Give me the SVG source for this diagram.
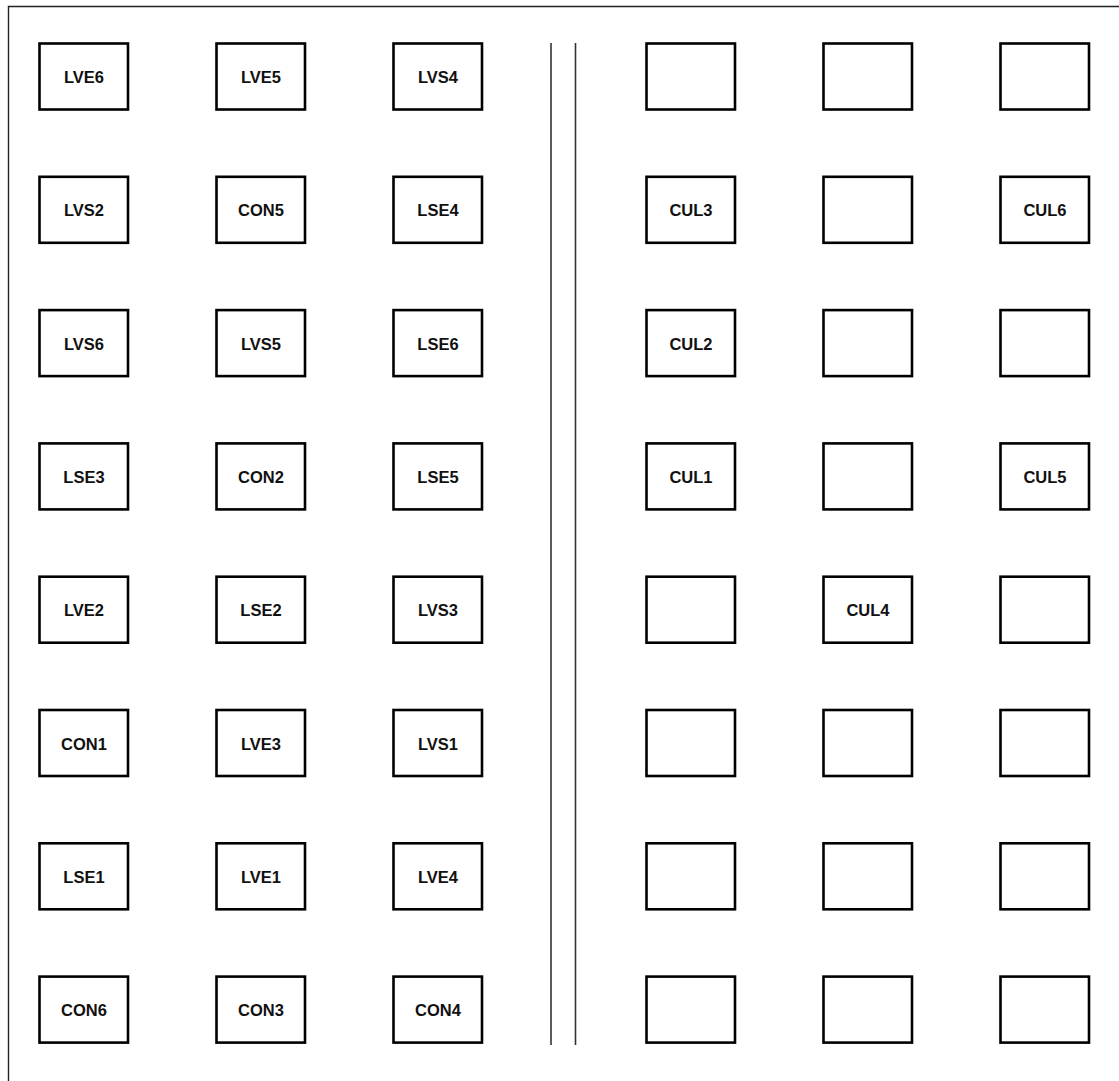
<svg xmlns="http://www.w3.org/2000/svg" width="1119" height="1081" viewBox="0 0 1119 1081">
<style>
.box{fill:#fff;stroke:#000;stroke-width:2.6}
.lbl{font-family:"Liberation Sans",Arial,sans-serif;font-weight:bold;font-size:16.5px;fill:#111;text-anchor:middle;dominant-baseline:central}
.frame{stroke:#222;stroke-width:1.4;fill:none}
.div{stroke:#333;stroke-width:1.6}
</style>
<rect width="1119" height="1081" fill="#fff"/>
<path class="frame" d="M8.5 1081 V6.5 H1119"/>
<g id="connectors">
<line class="div" x1="551" y1="43" x2="551" y2="1045"/>
<line class="div" x1="575.5" y1="43" x2="575.5" y2="1045"/>
</g>
<defs>
<rect id="b" class="box" width="88.5" height="66"/>
</defs>
<g id="n-LVE6"><use href="#b" x="39.5" y="43.5"/><text class="lbl" x="84" y="77">LVE6</text></g>
<g id="n-LVE5"><use href="#b" x="216.5" y="43.5"/><text class="lbl" x="261" y="77">LVE5</text></g>
<g id="n-LVS4"><use href="#b" x="393.5" y="43.5"/><text class="lbl" x="438" y="77">LVS4</text></g>
<g id="n-r1c4"><use href="#b" x="646.5" y="43.5"/></g>
<g id="n-r1c5"><use href="#b" x="823.5" y="43.5"/></g>
<g id="n-r1c6"><use href="#b" x="1000.5" y="43.5"/></g>

<g id="n-LVS2"><use href="#b" x="39.5" y="176.8"/><text class="lbl" x="84" y="210.3">LVS2</text></g>
<g id="n-CON5"><use href="#b" x="216.5" y="176.8"/><text class="lbl" x="261" y="210.3">CON5</text></g>
<g id="n-LSE4"><use href="#b" x="393.5" y="176.8"/><text class="lbl" x="438" y="210.3">LSE4</text></g>
<g id="n-CUL3"><use href="#b" x="646.5" y="176.8"/><text class="lbl" x="691" y="210.3">CUL3</text></g>
<g id="n-r2c5"><use href="#b" x="823.5" y="176.8"/></g>
<g id="n-CUL6"><use href="#b" x="1000.5" y="176.8"/><text class="lbl" x="1045" y="210.3">CUL6</text></g>

<g id="n-LVS6"><use href="#b" x="39.5" y="310.1"/><text class="lbl" x="84" y="343.6">LVS6</text></g>
<g id="n-LVS5"><use href="#b" x="216.5" y="310.1"/><text class="lbl" x="261" y="343.6">LVS5</text></g>
<g id="n-LSE6"><use href="#b" x="393.5" y="310.1"/><text class="lbl" x="438" y="343.6">LSE6</text></g>
<g id="n-CUL2"><use href="#b" x="646.5" y="310.1"/><text class="lbl" x="691" y="343.6">CUL2</text></g>
<g id="n-r3c5"><use href="#b" x="823.5" y="310.1"/></g>
<g id="n-r3c6"><use href="#b" x="1000.5" y="310.1"/></g>

<g id="n-LSE3"><use href="#b" x="39.5" y="443.4"/><text class="lbl" x="84" y="476.9">LSE3</text></g>
<g id="n-CON2"><use href="#b" x="216.5" y="443.4"/><text class="lbl" x="261" y="476.9">CON2</text></g>
<g id="n-LSE5"><use href="#b" x="393.5" y="443.4"/><text class="lbl" x="438" y="476.9">LSE5</text></g>
<g id="n-CUL1"><use href="#b" x="646.5" y="443.4"/><text class="lbl" x="691" y="476.9">CUL1</text></g>
<g id="n-r4c5"><use href="#b" x="823.5" y="443.4"/></g>
<g id="n-CUL5"><use href="#b" x="1000.5" y="443.4"/><text class="lbl" x="1045" y="476.9">CUL5</text></g>

<g id="n-LVE2"><use href="#b" x="39.5" y="576.7"/><text class="lbl" x="84" y="610.2">LVE2</text></g>
<g id="n-LSE2"><use href="#b" x="216.5" y="576.7"/><text class="lbl" x="261" y="610.2">LSE2</text></g>
<g id="n-LVS3"><use href="#b" x="393.5" y="576.7"/><text class="lbl" x="438" y="610.2">LVS3</text></g>
<g id="n-r5c4"><use href="#b" x="646.5" y="576.7"/></g>
<g id="n-CUL4"><use href="#b" x="823.5" y="576.7"/><text class="lbl" x="868" y="610.2">CUL4</text></g>
<g id="n-r5c6"><use href="#b" x="1000.5" y="576.7"/></g>

<g id="n-CON1"><use href="#b" x="39.5" y="710"/><text class="lbl" x="84" y="743.5">CON1</text></g>
<g id="n-LVE3"><use href="#b" x="216.5" y="710"/><text class="lbl" x="261" y="743.5">LVE3</text></g>
<g id="n-LVS1"><use href="#b" x="393.5" y="710"/><text class="lbl" x="438" y="743.5">LVS1</text></g>
<g id="n-r6c4"><use href="#b" x="646.5" y="710"/></g>
<g id="n-r6c5"><use href="#b" x="823.5" y="710"/></g>
<g id="n-r6c6"><use href="#b" x="1000.5" y="710"/></g>

<g id="n-LSE1"><use href="#b" x="39.5" y="843.3"/><text class="lbl" x="84" y="876.8">LSE1</text></g>
<g id="n-LVE1"><use href="#b" x="216.5" y="843.3"/><text class="lbl" x="261" y="876.8">LVE1</text></g>
<g id="n-LVE4"><use href="#b" x="393.5" y="843.3"/><text class="lbl" x="438" y="876.8">LVE4</text></g>
<g id="n-r7c4"><use href="#b" x="646.5" y="843.3"/></g>
<g id="n-r7c5"><use href="#b" x="823.5" y="843.3"/></g>
<g id="n-r7c6"><use href="#b" x="1000.5" y="843.3"/></g>

<g id="n-CON6"><use href="#b" x="39.5" y="976.6"/><text class="lbl" x="84" y="1010.1">CON6</text></g>
<g id="n-CON3"><use href="#b" x="216.5" y="976.6"/><text class="lbl" x="261" y="1010.1">CON3</text></g>
<g id="n-CON4"><use href="#b" x="393.5" y="976.6"/><text class="lbl" x="438" y="1010.1">CON4</text></g>
<g id="n-r8c4"><use href="#b" x="646.5" y="976.6"/></g>
<g id="n-r8c5"><use href="#b" x="823.5" y="976.6"/></g>
<g id="n-r8c6"><use href="#b" x="1000.5" y="976.6"/></g>
</svg>
